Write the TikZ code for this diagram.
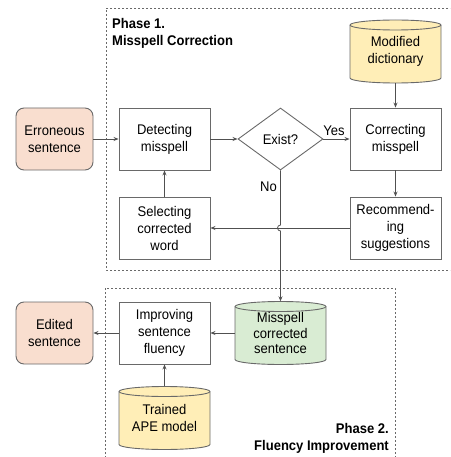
\documentclass[tikz,border=0pt]{standalone}
\usepackage{fontspec}
\setmainfont[FakeStretch=0.93]{Liberation Sans}
\usetikzlibrary{shapes.geometric,arrows.meta}
\definecolor{bordc}{RGB}{105,105,105}
\definecolor{linec}{RGB}{80,80,80}
\definecolor{peach}{RGB}{249,222,207}
\definecolor{yell}{RGB}{255,238,183}
\definecolor{greenf}{RGB}{217,236,211}
\newcommand\cylshape[3]{%
  \filldraw[draw=bordc, line width=0.9pt, fill=#3] (#1-45.5,#2+26.5) -- (#1-45.5,#2-26.5)
    arc[start angle=180,end angle=360,x radius=45.5,y radius=5] -- (#1+45.5,#2+26.5)
    arc[start angle=0,end angle=180,x radius=45.5,y radius=5] -- cycle;
  \draw[draw=bordc, line width=0.9pt] (#1-45.5,#2+26.5)
    arc[start angle=180,end angle=360,x radius=45.5,y radius=5];}
\begin{document}
\begin{tikzpicture}[x=1pt,y=1pt,
  txt/.style={align=center, font=\fontsize{14}{17}\selectfont},
  box/.style={txt, draw=bordc, line width=0.9pt, minimum width=91pt, minimum height=62pt, inner sep=0pt},
  rbox/.style={box, minimum width=77pt, rounded corners=8pt, fill=peach},
  cyl/.style={txt, minimum width=91pt, minimum height=63pt, inner sep=0pt},
  dec/.style={txt, draw=bordc, line width=0.9pt, diamond, minimum width=85pt, minimum height=62pt, inner sep=0pt},
  arr/.style={draw=linec, line width=0.8pt, -{Stealth[length=5pt,width=4pt]}},
  phase/.style={draw=bordc, line width=0.7pt, dash pattern=on 2pt off 2pt},
  lab/.style={font=\fontsize{14}{17}\selectfont},
  plab/.style={font=\fontsize{14}{17}\selectfont\bfseries, inner sep=0pt}]
\useasboundingbox (0,0) rectangle (450,-457);
\clip (0,0) rectangle (450,-457);
% phase frames
\draw[phase] (460,-8) -- (106,-8) -- (106,-270) -- (460,-270);
\draw[phase] (105,-470) -- (105,-288) -- (395,-288) -- (395,-470);
\node[plab, anchor=north west, align=left] (p1) at (112,-18) {Phase 1.\\Misspell Correction};
\node[plab, anchor=south east, align=right] (p2) at (389,-454) {Phase 2.\\Fluency Improvement};
% cylinders
\cylshape{395.5}{-51.5}{yell}
\cylshape{280.5}{-333}{greenf}
\cylshape{164.5}{-418}{yell}
\node[cyl] (dict) at (395.5,-51.5) {Modified\\dictionary};
\node[cyl, font=\fontsize{14}{15.5}\selectfont] (msc) at (280.5,-333) {Misspell\\corrected\\sentence};
\node[cyl] (ape) at (164.5,-418) {Trained\\APE model};
% nodes
\node[rbox] (err) at (54.5,-139) {Erroneous\\sentence};
\node[box] (det) at (164.5,-139) {Detecting\\misspell};
\node[dec] (ex) at (280.5,-139) {Exist?};
\node[box] (cor) at (395.5,-139) {Correcting\\misspell};
\node[box] (rec) at (395.5,-228) {Recommend-\\ing\\suggestions};
\node[box] (sel) at (164.5,-228) {Selecting\\corrected\\word};
\node[rbox] (edt) at (54.5,-333) {Edited\\sentence};
\node[box] (imp) at (164.5,-333) {Improving\\sentence\\fluency};
% connectors
\draw[arr] (err) -- (det);
\draw[arr] (det) -- (ex);
\draw[arr] (ex) -- node[lab, above, pos=0.4] {Yes} (cor);
\draw[arr] (dict.south) -- (cor);
\draw[arr] (cor) -- (rec);
\draw[arr] (rec) -- (sel);
\draw[arr] (sel) -- (det);
\coordinate (hopA) at (280.5,-225);
\draw[arr] (ex.south) -- node[lab, left, pos=0.3] {No} (hopA) arc[start angle=90,end angle=270,radius=3] -- (msc.north);
\draw[arr] (msc) -- (imp);
\draw[arr] (imp) -- (edt);
\draw[arr] (ape.north) -- (imp);
\end{tikzpicture}
\end{document}
